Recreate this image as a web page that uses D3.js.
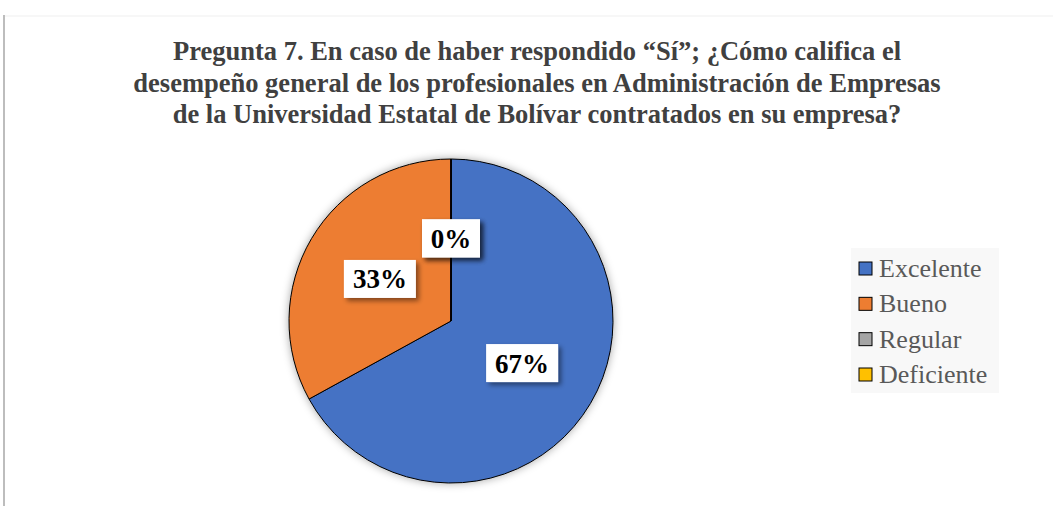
<!DOCTYPE html>
<html>
<head>
<meta charset="utf-8">
<script src="https://cdn.jsdelivr.net/npm/d3@7"></script>
<style>
  html, body { margin: 0; padding: 0; background: #fff; }
  #chart { width: 1053px; height: 506px; }
</style>
</head>
<body>
<div id="chart"></div>
<script>
const categories = ['Excelente', 'Bueno', 'Regular', 'Deficiente'];
const values = [67, 33, 0, 0];
const colors = ['#4472c4', '#ed7d31', '#a5a5a5', '#ffc000'];
const titleLines = [
  'Pregunta 7. En caso de haber respondido “Sí”; ¿Cómo califica el',
  'desempeño general de los profesionales en Administración de Empresas',
  'de la Universidad Estatal de Bolívar contratados en su empresa?'
];

const width = 1053, height = 506;
const svg = d3.select('#chart').append('svg')
  .attr('width', width)
  .attr('height', height);

const defs = svg.append('defs');
// soft glow under the pie
const pieShadow = defs.append('filter').attr('id', 'pieShadow')
  .attr('x', '-10%').attr('y', '-10%').attr('width', '120%').attr('height', '120%');
pieShadow.append('feDropShadow')
  .attr('dx', 0).attr('dy', 0).attr('stdDeviation', 4)
  .attr('flood-color', '#000').attr('flood-opacity', 0.35);
// offset shadow under the labels
const lblShadow = defs.append('filter').attr('id', 'lblShadow')
  .attr('x', '-20%').attr('y', '-20%').attr('width', '150%').attr('height', '160%');
lblShadow.append('feDropShadow')
  .attr('dx', 3).attr('dy', 3).attr('stdDeviation', 2.5)
  .attr('flood-color', '#000').attr('flood-opacity', 0.45);

// chart frame
svg.append('line')
  .attr('x1', 4).attr('x2', width).attr('y1', 16).attr('y2', 16)
  .attr('stroke', '#efefef').attr('stroke-width', 1);
svg.append('line')
  .attr('x1', 4).attr('x2', 4).attr('y1', 15).attr('y2', height)
  .attr('stroke', '#bdbdbd').attr('stroke-width', 2);

// title
svg.append('g')
  .selectAll('text')
  .data(titleLines)
  .join('text')
  .attr('x', 537)
  .attr('y', (d, i) => 60 + i * 31.5)
  .attr('text-anchor', 'middle')
  .attr('font-family', '"Liberation Serif", "Times New Roman", serif')
  .attr('font-weight', 'bold')
  .attr('font-size', 26.5)
  .attr('fill', '#404040')
  .text(d => d);

// pie
const cx = 451, cy = 321, radius = 162;
const data = categories.map((c, i) => ({ name: c, value: values[i], color: colors[i] }));
const pie = d3.pie().sort(null).value(d => d.value);
const arcs = pie(data);
const arc = d3.arc().innerRadius(0).outerRadius(radius);
const labelArc = d3.arc().innerRadius(radius * 0.51).outerRadius(radius * 0.51);

const g = svg.append('g').attr('transform', 'translate(' + cx + ',' + cy + ')');
g.append('g')
  .attr('filter', 'url(#pieShadow)')
  .selectAll('path')
  .data(arcs)
  .join('path')
  .attr('d', arc)
  .attr('fill', d => d.data.color)
  .attr('stroke', '#000')
  .attr('stroke-width', 1);

// data labels
const total = d3.sum(values);
const lbl = g.append('g')
  .selectAll('g')
  .data(arcs)
  .join('g')
  .attr('transform', d => 'translate(' + labelArc.centroid(d) + ')');
lbl.append('rect')
  .attr('x', d => d.data.value > 0 ? -36 : -29)
  .attr('y', -19)
  .attr('width', d => d.data.value > 0 ? 72 : 58)
  .attr('height', 38)
  .attr('fill', '#fff')
  .attr('filter', 'url(#lblShadow)');
lbl.append('text')
  .attr('text-anchor', 'middle')
  .attr('dy', '0.35em')
  .attr('font-family', '"Liberation Serif", "Times New Roman", serif')
  .attr('font-weight', 'bold')
  .attr('font-size', 27)
  .attr('fill', '#000')
  .text(d => Math.round(d.data.value / total * 100) + '%');

// legend
const legend = svg.append('g').attr('transform', 'translate(851,248)');
legend.append('rect')
  .attr('width', 148).attr('height', 145)
  .attr('fill', '#f8f8f8');
const rowY = d3.scalePoint().domain(categories).range([20, 126]);
const item = legend.selectAll('g.item')
  .data(data)
  .join('g')
  .attr('class', 'item')
  .attr('transform', d => 'translate(0,' + rowY(d.name) + ')');
item.append('rect')
  .attr('x', 8).attr('y', -6)
  .attr('width', 13).attr('height', 13)
  .attr('fill', d => d.color)
  .attr('stroke', '#000')
  .attr('stroke-width', 1);
item.append('text')
  .attr('x', 28)
  .attr('dy', '0.35em')
  .attr('font-family', '"Liberation Serif", "Times New Roman", serif')
  .attr('font-size', 26)
  .attr('fill', '#595959')
  .text(d => d.name);
</script>
</body>
</html>
